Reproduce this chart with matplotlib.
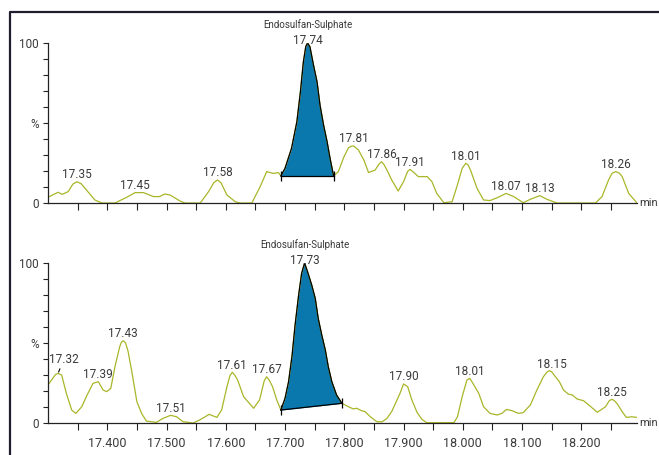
import numpy as np
import matplotlib
matplotlib.use("Agg")
import matplotlib.pyplot as plt
from matplotlib.lines import Line2D

plt.rcParams['font.family'] = ['Roboto', 'DejaVu Sans']

# top trace (retention time, %)
top_t = [17.300, 17.317, 17.324, 17.334, 17.342, 17.349, 17.356, 17.365, 17.379, 17.391,
         17.413, 17.433, 17.447, 17.461, 17.478, 17.488, 17.497, 17.506, 17.523, 17.531,
         17.557, 17.571, 17.580, 17.586, 17.592, 17.602, 17.616, 17.624, 17.644, 17.658,
         17.669, 17.680, 17.689, 17.693,
         17.700, 17.711, 17.720, 17.726, 17.731, 17.735, 17.738, 17.742, 17.748, 17.754,
         17.759, 17.765, 17.771, 17.776, 17.782, 17.790, 17.799, 17.807, 17.812, 17.816,
         17.824, 17.833, 17.841, 17.852, 17.859, 17.863, 17.867, 17.872, 17.880, 17.891,
         17.900, 17.907, 17.911, 17.916, 17.925, 17.940, 17.948, 17.956, 17.968, 17.982,
         17.990, 17.999, 18.005, 18.009, 18.013, 18.024, 18.035, 18.046, 18.060, 18.073,
         18.086, 18.102, 18.114, 18.130, 18.142, 18.159, 18.224, 18.235, 18.246, 18.252,
         18.258, 18.264, 18.269, 18.280, 18.294]
top_v = [3.6, 6.7, 5.4, 7.1, 11.8, 13.3, 12.0, 8.1, 1.9, 0.0,
         0.0, 3.6, 6.5, 6.5, 4.0, 4.0, 5.6, 5.0, 1.2, 0.0,
         0.0, 7.1, 12.8, 14.4, 12.6, 5.0, 0.8, 0.0, 0.0, 10.2,
         19.6, 18.5, 19.0, 16.9,
         21.7, 34.2, 50.8, 69.6, 88.3, 97.7, 100.0, 97.7, 86.3, 75.8,
         61.3, 48.8, 38.3, 27.9, 16.9, 19.6, 28.5, 34.5, 35.5, 35.6,
         33.1, 26.9, 19.0, 20.6, 24.5, 25.8, 24.0, 20.6, 14.4, 7.5,
         13.3, 19.8, 21.0, 19.5, 16.5, 16.5, 13.3, 6.0, 0.2, 0.8,
         10.2, 21.7, 24.8, 23.8, 20.6, 9.2, 1.9, 1.5, 3.6, 6.0,
         4.0, 0.2, 2.3, 4.6, 2.3, 0.0, 0.0, 4.0, 14.4, 18.6,
         19.6, 18.7, 16.5, 6.0, 0.0]

# bottom trace
bot_t = [17.300, 17.308, 17.313, 17.317, 17.323, 17.331, 17.340, 17.347, 17.357, 17.366,
         17.376, 17.385, 17.393, 17.399, 17.406, 17.413, 17.421, 17.424, 17.427, 17.431,
         17.435, 17.441, 17.450, 17.458, 17.466, 17.483, 17.494, 17.507, 17.517, 17.528,
         17.545, 17.556, 17.572, 17.585, 17.593, 17.602, 17.607, 17.611, 17.615, 17.620,
         17.630, 17.647, 17.657, 17.665, 17.669, 17.673, 17.679, 17.686, 17.693,
         17.700, 17.706, 17.712, 17.717, 17.723, 17.728, 17.733, 17.738, 17.745, 17.751,
         17.756, 17.762, 17.768, 17.773, 17.779, 17.787, 17.796,
         17.807, 17.815, 17.821, 17.829, 17.835, 17.844, 17.855, 17.864, 17.872, 17.880,
         17.889, 17.894, 17.900, 17.907, 17.914, 17.923, 17.931, 17.939, 17.985, 17.991,
         17.999, 18.007, 18.012, 18.017, 18.027, 18.035, 18.046, 18.058, 18.066, 18.074,
         18.083, 18.094, 18.102, 18.114, 18.125, 18.136, 18.142, 18.146, 18.150, 18.154,
         18.163, 18.170, 18.178, 18.185, 18.193, 18.204, 18.216, 18.227, 18.241, 18.247,
         18.251, 18.255, 18.260, 18.269, 18.276, 18.285, 18.294]
bot_v = [23.8, 27.9, 30.4, 31.0, 30.0, 18.5, 8.1, 6.0, 10.2, 17.5,
         24.8, 25.8, 20.6, 19.6, 21.7, 35.2, 47.7, 50.6, 51.4, 50.0,
         45.0, 33.1, 13.3, 6.0, 1.2, 0.4, 2.9, 4.8, 3.9, 0.8,
         0.0, 1.9, 5.4, 3.5, 8.1, 22.7, 29.5, 31.7, 30.0, 26.9,
         16.5, 9.2, 14.4, 26.5, 28.9, 27.0, 22.7, 14.4, 8.1,
         15.4, 25.8, 42.5, 61.3, 80.0, 93.5, 100.0, 94.6, 86.3, 77.9,
         65.4, 55.0, 45.6, 35.2, 25.8, 17.5, 12.3,
         10.2, 8.8, 9.2, 7.7, 7.1, 3.9, 0.8, 0.8, 2.9, 7.1,
         14.4, 18.5, 24.4, 22.7, 14.4, 6.5, 2.3, 0.2, 0.2, 3.9,
         16.5, 26.9, 27.9, 24.8, 18.5, 10.2, 6.0, 5.0, 6.0, 8.5,
         7.7, 6.0, 6.5, 11.2, 20.6, 28.9, 31.8, 32.7, 32.0, 30.0,
         25.8, 20.6, 18.1, 17.5, 15.0, 13.9, 10.2, 6.7, 10.2, 13.8,
         14.8, 14.2, 12.3, 7.1, 3.5, 3.9, 3.5]

# integrated peak (start, end)
top_peak = (17.693, 17.782)
bot_peak = (17.693, 17.796)

compound = "Endosulfan-Sulphate"
top_labels = ["17.35", "17.45", "17.58", "17.74", "17.81", "17.86", "17.91", "18.01", "18.07", "18.13", "18.26"]
top_label_t = [17.349, 17.447, 17.586, 17.738, 17.816, 17.863, 17.911, 18.005, 18.073, 18.130, 18.258]
bot_labels = ["17.32", "17.39", "17.43", "17.51", "17.61", "17.67", "17.73", "17.90", "18.01", "18.15", "18.25"]
bot_label_t = [17.317, 17.385, 17.427, 17.507, 17.611, 17.669, 17.733, 17.900, 18.012, 18.150, 18.251]

xticks_major = [17.4, 17.5, 17.6, 17.7, 17.8, 17.9, 18.0, 18.1, 18.2]
xticks_minor = [17.35, 17.45, 17.55, 17.65, 17.75, 17.85, 17.95, 18.05, 18.15, 18.25]

line_c = "#a9b628"
fill_c = "#0a77ad"
txt_c = "#3a3a3a"

fig = plt.figure(figsize=(6.59, 4.55), dpi=100)
fig.patch.set_facecolor("white")

# outer frame (left + top)
fig.add_artist(Line2D([9.5/659, 9.5/659, 1.0], [0.0, 1 - 12/455, 1 - 12/455],
                      transform=fig.transFigure, color="#1e1e2e", lw=1.6))

ax1 = fig.add_axes([48/659, 1 - 203/455, 589/659, 160/455])
ax2 = fig.add_axes([48/659, 1 - 423/455, 589/659, 160/455])


def draw(ax, t, v, peak, labels, label_t, main_t, show_xlabels):
    t = np.array(t)
    v = np.array(v)
    ax.plot(t, v, color=line_c, lw=0.9, solid_joinstyle="round")
    # shaded peak
    m = (t >= peak[0]) & (t <= peak[1])
    pt = t[m]
    pv = v[m]
    base = np.interp(pt, [pt[0], pt[-1]], [pv[0], pv[-1]])
    ax.fill_between(pt, base, pv, color=fill_c, lw=0)
    ax.plot(pt, pv, color="black", lw=0.9)
    ax.plot([pt[0], pt[-1]], [pv[0], pv[-1]], color="black", lw=0.9)
    ax.plot([pt[0], pt[-1]], [pv[0], pv[-1]], ls="none", marker="|", ms=7,
            mew=0.9, color="black")

    for lab, lt in zip(labels, label_t):
        lv = np.interp(lt, t, v)
        if lab == "17.32":
            ax.annotate(lab, xy=(lt, lv), xytext=(4, 10), textcoords="offset points",
                        ha="center", va="center", fontsize=8.5, color=txt_c,
                        arrowprops=dict(arrowstyle="-", color="black", lw=0.8,
                                        shrinkA=5, shrinkB=1))
            continue
        dy = 1.8 if lt == main_t else 5.2
        ax.annotate(lab, xy=(lt, lv), xytext=(0, dy), textcoords="offset points",
                    ha="center", va="center", fontsize=8.5, color=txt_c,
                    annotation_clip=False)
    ax.text(main_t, 1.115, compound, transform=ax.get_xaxis_transform(),
            ha="center", va="center", fontsize=7, color=txt_c)

    ax.set_xlim(17.300, 18.294)
    ax.set_ylim(0, 100)
    for s in ["top", "right"]:
        ax.spines[s].set_visible(False)
    for s in ["left", "bottom"]:
        ax.spines[s].set_color("#222222")
        ax.spines[s].set_linewidth(0.9)
    ax.set_yticks([0, 50, 100])
    ax.set_yticklabels(["0", "%", "100"])
    ax.set_yticks(np.arange(10, 100, 10), minor=True)
    ax.tick_params(axis="y", which="both", length=3.5, width=0.8, color="#222222",
                   labelsize=8.5, labelcolor=txt_c, pad=3)
    ax.set_xticks(xticks_major)
    ax.set_xticks(xticks_minor, minor=True)
    ax.tick_params(axis="x", which="both", length=5, width=0.8, color="#222222",
                   labelsize=9, labelcolor=txt_c, pad=5)
    if show_xlabels:
        ax.set_xticklabels(["%.3f" % x for x in xticks_major])
    else:
        ax.set_xticklabels([])
    ax.text(1.003, 0.0, "min", transform=ax.transAxes, ha="left", va="center",
            fontsize=8, color=txt_c)
    ax.patch.set_alpha(0)


draw(ax1, top_t, top_v, top_peak, top_labels, top_label_t, 17.738, False)
draw(ax2, bot_t, bot_v, bot_peak, bot_labels, bot_label_t, 17.733, True)

fig.savefig("out.png", dpi=100)
